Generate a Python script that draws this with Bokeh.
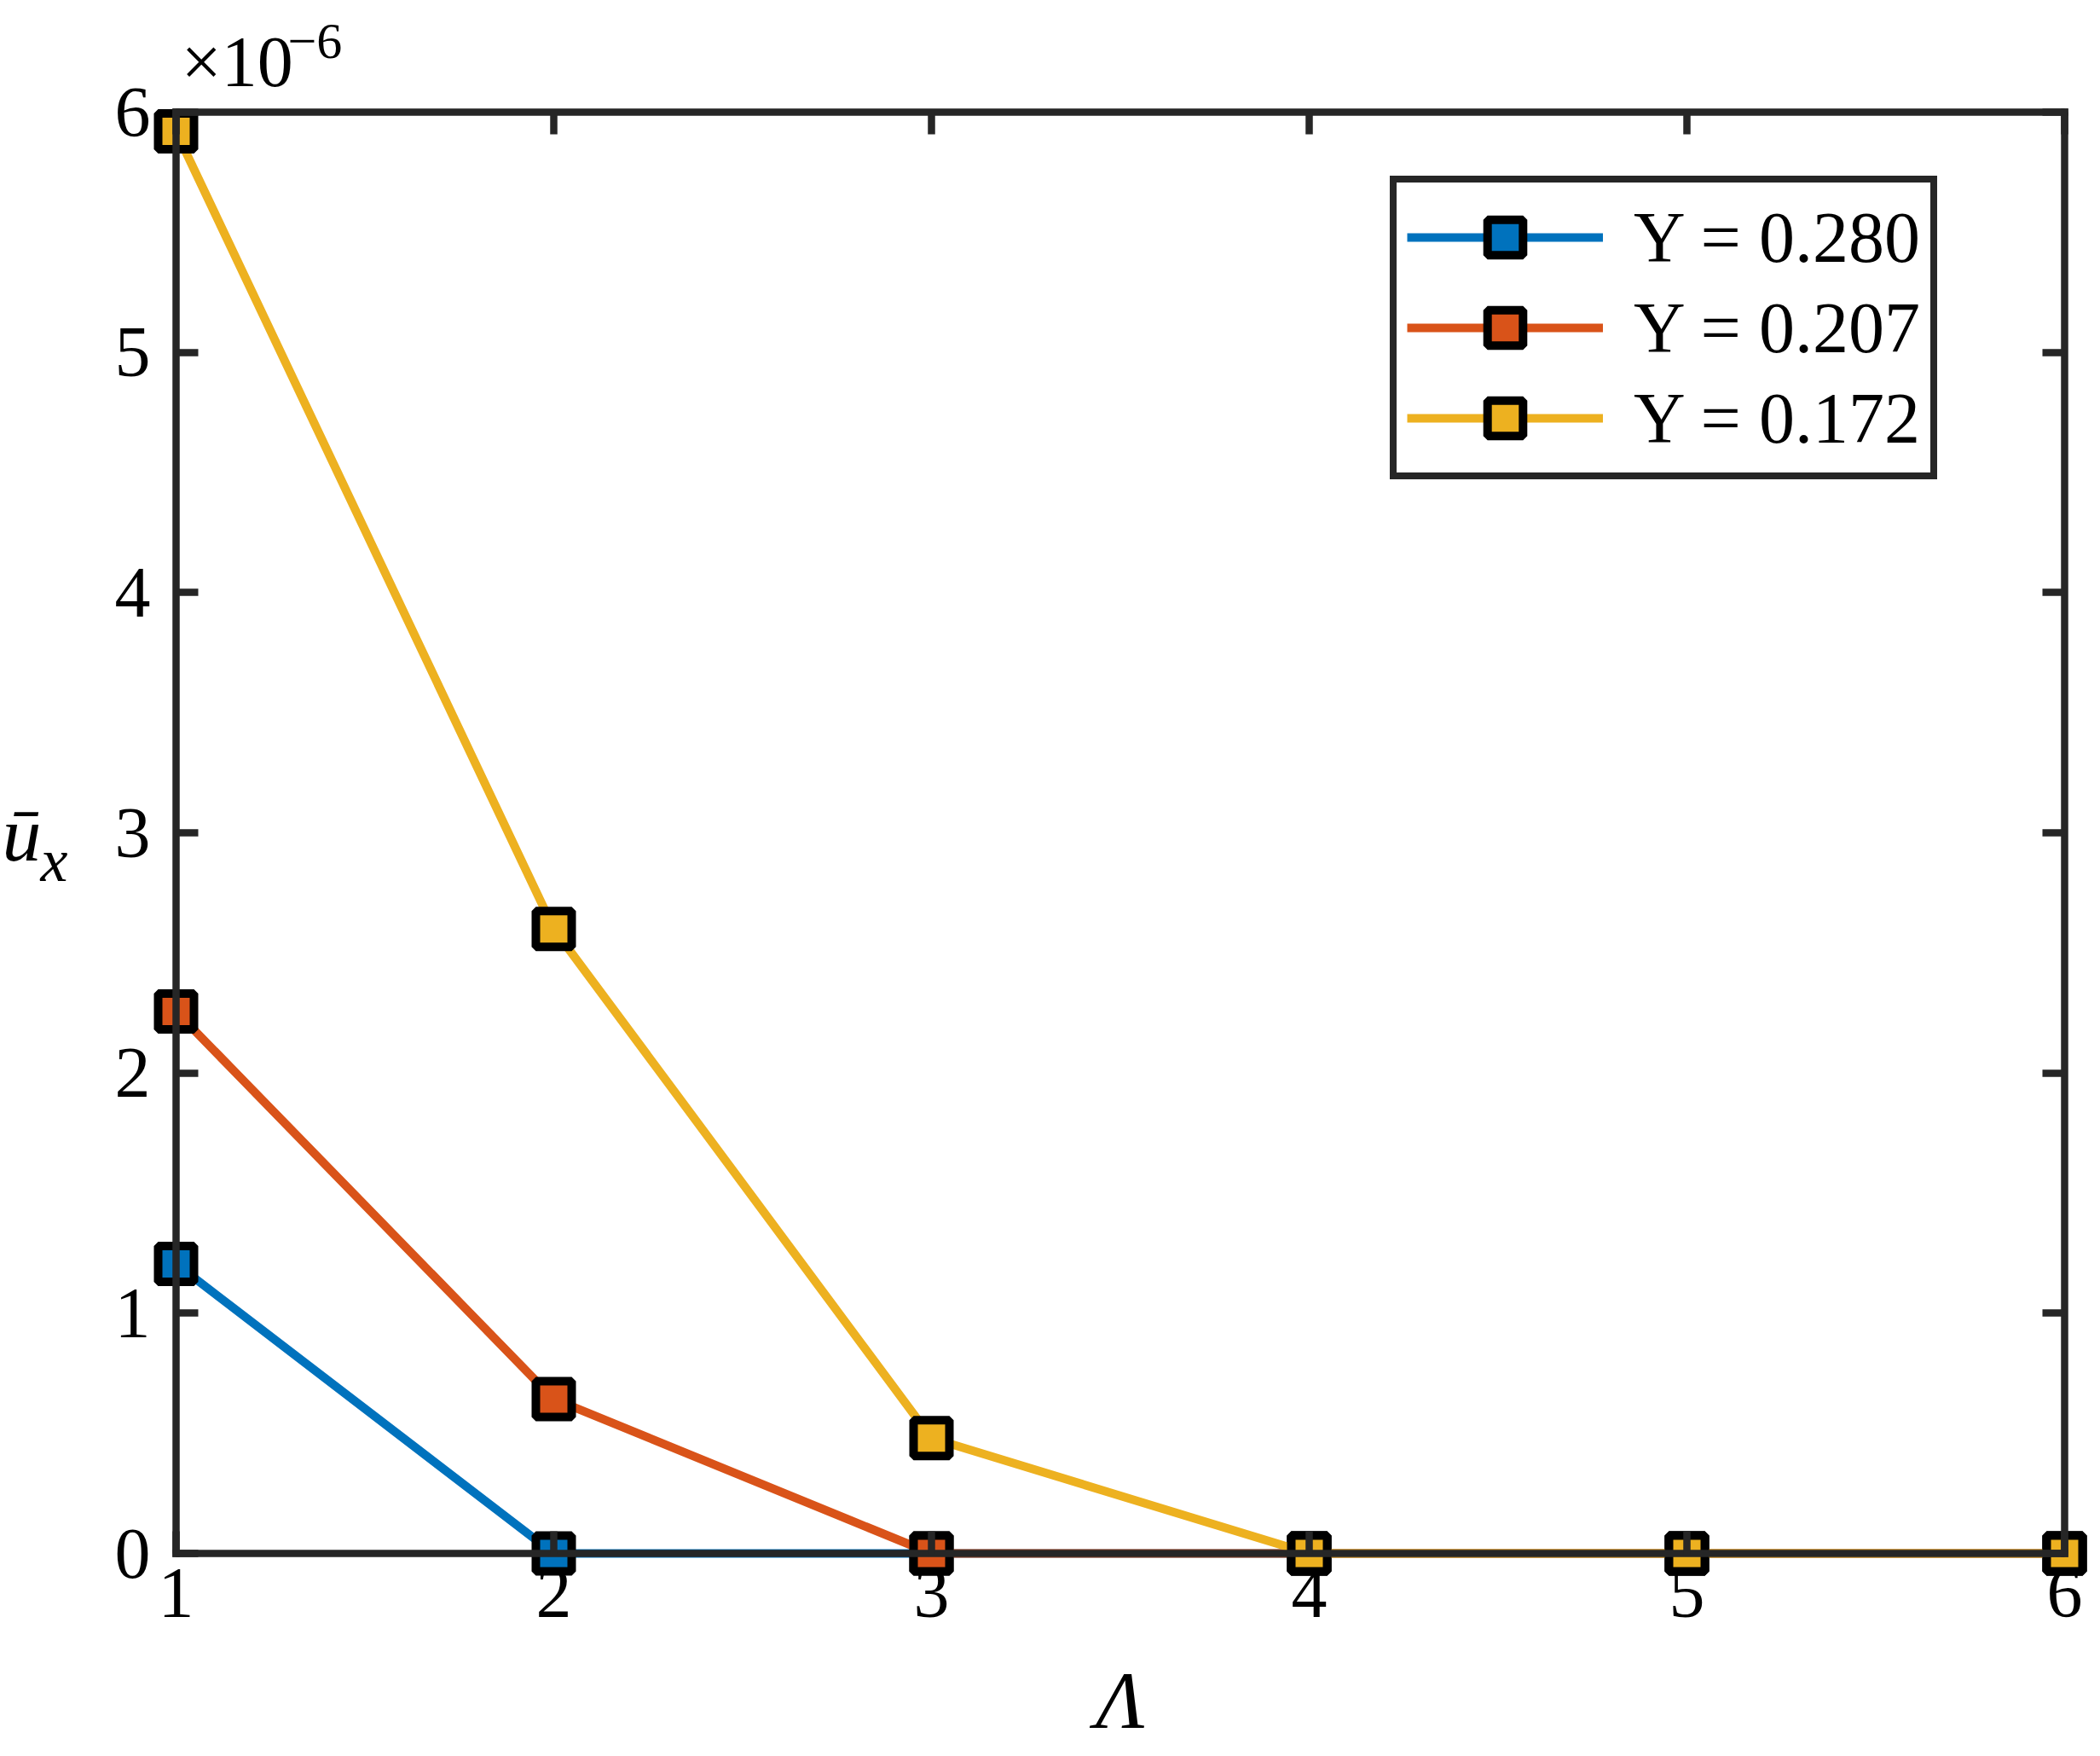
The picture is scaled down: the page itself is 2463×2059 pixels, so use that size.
from bokeh.plotting import figure
from bokeh.models import Range1d, LinearAxis, FixedTicker, Legend, LegendItem, Label
from bokeh.embed import file_html
from bokeh.resources import INLINE

# data (u_x in units of 1e-6)
lam = [1, 2, 3, 4, 5, 6]
ux_280 = [1.205, 0, 0, 0, 0, 0]
ux_207 = [2.256, 0.643, 0, 0, 0, 0]
ux_172 = [5.92, 2.60, 0.48, 0, 0, 0]
series_labels = ["Y = 0.280", "Y = 0.207", "Y = 0.172"]
series_colors = ["#0072BD", "#D95319", "#EDB120"]
x_ticks = [1, 2, 3, 4, 5, 6]
y_ticks = [0, 1, 2, 3, 4, 5, 6]

FONT = "Liberation Serif"
AX = "#262626"

# the frame covers the whole canvas; the box is drawn with fixed-location axes
W, H = 2455, 2051
BOX_L, BOX_R, BOX_T, BOX_B = 206, 2421, 131, 1821
sx = (BOX_R - BOX_L) / 5.0
sy = (BOX_B - BOX_T) / 6.0

p = figure(frame_width=W, frame_height=H,
           x_range=Range1d(1 - BOX_L / sx, 1 + (W - BOX_L) / sx),
           y_range=Range1d(0 - (H - BOX_B) / sy, 6 + BOX_T / sy),
           output_backend="svg", toolbar_location=None,
           min_border=0)
p.outline_line_color = None
p.grid.visible = False


def style_axis(ax, ticks, bounds, loc, tick_in, tick_out, show_labels, standoff):
    ax.ticker = FixedTicker(ticks=ticks)
    ax.bounds = bounds
    ax.fixed_location = loc
    ax.axis_label = None
    ax.axis_line_color = AX
    ax.axis_line_width = 8.5
    ax.axis_line_cap = "square"
    ax.major_tick_line_color = AX
    ax.major_tick_line_width = 8.5
    ax.major_tick_in = tick_in
    ax.major_tick_out = tick_out
    ax.minor_tick_line_color = None
    ax.major_label_text_font = FONT
    ax.major_label_text_color = "black"
    ax.major_label_standoff = standoff
    if show_labels:
        ax.major_label_text_font_size = "84px"
    else:
        ax.major_label_overrides = {t: "" for t in ticks}
        ax.major_label_text_font_size = "1px"


style_axis(p.xaxis[0], x_ticks, (1, 6), 0, 26, 0, True, 18)
style_axis(p.yaxis[0], y_ticks, (0, 6), 1, 26, 0, True, 30)

top = LinearAxis()
style_axis(top, x_ticks, (1, 6), 6, 0, 26, False, 0)
p.add_layout(top, "below")
right = LinearAxis()
style_axis(right, y_ticks, (0, 6), 6, 0, 26, False, 0)
p.add_layout(right, "left")

items = []
for vals, lab, col in zip([ux_280, ux_207, ux_172], series_labels, series_colors):
    r_line = p.line(lam, vals, line_color=col, line_width=10)
    r_mark = p.scatter(lam, vals, marker="square", size=42, fill_color=col,
                       line_color="black", line_width=10)
    items.append(LegendItem(label=lab, renderers=[r_line, r_mark]))

legend = Legend(items=items, location=(1630, H - 562),
                label_text_font=FONT, label_text_font_size="84px", label_text_color="black",
                glyph_width=230, glyph_height=104, spacing=2, padding=12,
                label_standoff=36, margin=0,
                border_line_color=AX, border_line_width=8, border_line_alpha=1.0,
                background_fill_color="white", background_fill_alpha=1.0)
p.add_layout(legend)


def add_text(x, y, dx, dy, text, size, style="normal", align="left"):
    p.add_layout(Label(x=x, y=y, x_offset=dx, y_offset=dy, text=text,
                       text_font=FONT, text_font_size=size, text_font_style=style,
                       text_color="black", text_align=align, text_baseline="middle"))


add_text(1, 6, 6, 59, "×10", "84px")
add_text(1, 6, 131, 83, "−6", "60px")
add_text(1, 3, -204, -1, "ū", "92px", "italic")
add_text(1, 3, -159, -32, "x", "72px", "italic")
add_text(3.5, 0, 0, -172, "Λ", "95px", "italic", "center")

open("out.html", "w").write(file_html(p, INLINE))
